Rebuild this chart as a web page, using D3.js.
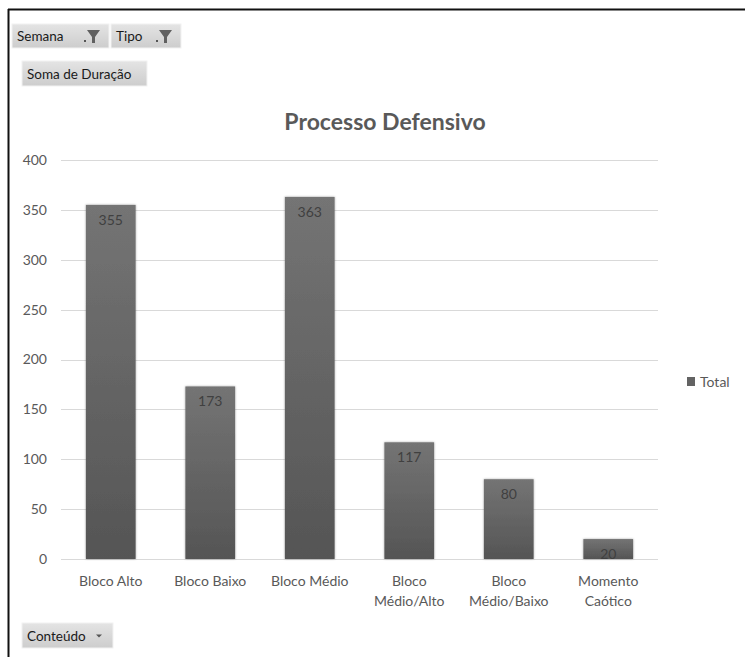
<!DOCTYPE html>
<html>
<head>
<meta charset="utf-8">
<script src="https://cdn.jsdelivr.net/npm/d3@7"></script>
<style>
  html, body { margin: 0; padding: 0; background: #fff; }
  svg { display: block; }
  text { font-family: Lato, "Open Sans", sans-serif; }
</style>
</head>
<body>
<svg id="chart" width="745" height="657"></svg>
<script>
// Duração total por tipo de bloco defensivo
const categories = [
  ["Bloco Alto"],
  ["Bloco Baixo"],
  ["Bloco Médio"],
  ["Bloco", "Médio/Alto"],
  ["Bloco", "Médio/Baixo"],
  ["Momento", "Caótico"]
];
const totals = [355, 173, 363, 117, 80, 20];
const yTicks = [0, 50, 100, 150, 200, 250, 300, 350, 400];
const title = "Processo Defensivo";
const seriesName = "Total";
const filterFields = ["Semana", "Tipo"];
const valueField = "Soma de Duração";
const rowField = "Conteúdo";

const svg = d3.select("#chart");
const W = 745, H = 657;
const plot = { left: 61, right: 658, top: 160, bottom: 559 };
const textGray = "#595959";

// gradients
const defs = svg.append("defs");
const barGrad = defs.append("linearGradient").attr("id", "barGrad")
  .attr("x1", 0).attr("y1", 0).attr("x2", 0).attr("y2", 1);
barGrad.append("stop").attr("offset", "0%").attr("stop-color", "#747474");
barGrad.append("stop").attr("offset", "100%").attr("stop-color", "#555555");
const btnGrad = defs.append("linearGradient").attr("id", "btnGrad")
  .attr("x1", 0).attr("y1", 0).attr("x2", 0).attr("y2", 1);
btnGrad.append("stop").attr("offset", "0%").attr("stop-color", "#e4e4e4");
btnGrad.append("stop").attr("offset", "100%").attr("stop-color", "#cdcdcd");
const shadow = defs.append("filter").attr("id", "barShadow")
  .attr("x", "-20%").attr("y", "-10%").attr("width", "140%").attr("height", "120%");
shadow.append("feDropShadow").attr("dx", 0).attr("dy", 0).attr("stdDeviation", 1.2)
  .attr("flood-color", "#000").attr("flood-opacity", 0.35);

// frame
svg.append("line").attr("x1", 8).attr("x2", W).attr("y1", 9.5).attr("y2", 9.5)
  .attr("stroke", "#111").attr("stroke-width", 2);
svg.append("line").attr("x1", 8.5).attr("x2", 8.5).attr("y1", 9).attr("y2", H)
  .attr("stroke", "#111").attr("stroke-width", 2);

// scales
const x = d3.scaleBand().domain(d3.range(categories.length))
  .range([plot.left, plot.right]).paddingInner(0.5).paddingOuter(0.25);
const y = d3.scaleLinear().domain([0, 400]).range([plot.bottom, plot.top]);

// gridlines
svg.append("g").selectAll("line").data(yTicks).join("line")
  .attr("x1", plot.left).attr("x2", plot.right)
  .attr("y1", d => Math.round(y(d)) + 0.5).attr("y2", d => Math.round(y(d)) + 0.5)
  .attr("stroke", "#d9d9d9").attr("stroke-width", 1);

// y axis labels
const yAxis = d3.axisLeft(y).tickValues(yTicks).tickSize(0).tickPadding(0);
const gy = svg.append("g").attr("transform", `translate(${plot.left - 14},0)`).call(yAxis);
gy.select(".domain").remove();
gy.selectAll("text").attr("fill", textGray).attr("font-size", 14)
  .attr("font-family", "Lato, sans-serif");

// bars
svg.append("g").selectAll("rect").data(totals).join("rect")
  .attr("x", (d, i) => x(i))
  .attr("y", d => y(d))
  .attr("width", x.bandwidth())
  .attr("height", d => y(0) - y(d))
  .attr("fill", "url(#barGrad)")
  .attr("filter", "url(#barShadow)");

// value labels
svg.append("g").selectAll("text").data(totals).join("text")
  .attr("x", (d, i) => x(i) + x.bandwidth() / 2)
  .attr("y", d => y(d) + 20)
  .attr("text-anchor", "middle")
  .attr("font-size", 14)
  .attr("fill", "#404040")
  .text(d => d);

// category labels
const gx = svg.append("g");
categories.forEach((lines, i) => {
  const t = gx.append("text")
    .attr("x", x(i) + x.bandwidth() / 2)
    .attr("y", plot.bottom + 27)
    .attr("text-anchor", "middle")
    .attr("font-size", 14)
    .attr("fill", textGray);
  lines.forEach((s, k) => {
    t.append("tspan").attr("x", x(i) + x.bandwidth() / 2)
      .attr("dy", k === 0 ? 0 : 20).text(s);
  });
});

// title
svg.append("text").attr("x", 385).attr("y", 130)
  .attr("text-anchor", "middle").attr("font-size", 23).attr("font-weight", 700)
  .attr("fill", textGray).text(title);

// legend
svg.append("rect").attr("x", 687).attr("y", 377).attr("width", 8).attr("height", 9)
  .attr("fill", "#636363");
svg.append("text").attr("x", 700).attr("y", 387).attr("font-size", 14)
  .attr("fill", textGray).text(seriesName);

// pivot field buttons
function button(bx, by, bw, bh, label, icon) {
  const g = svg.append("g").attr("transform", `translate(${bx},${by})`);
  g.append("rect").attr("width", bw).attr("height", bh).attr("fill", "url(#btnGrad)")
    .attr("stroke", "#f2f2f2").attr("stroke-width", 1);
  g.append("text").attr("x", 5).attr("y", bh / 2 + 5).attr("font-size", 13.5)
    .attr("fill", "#1a1a1a").text(label);
  if (icon === "filter") {
    const ix = bw - 24;
    g.append("rect").attr("x", ix - 1).attr("y", bh / 2 + 4).attr("width", 2).attr("height", 2)
      .attr("fill", "#555");
    g.append("path")
      .attr("d", `M${ix + 2},${bh / 2 - 6} L${ix + 15},${bh / 2 - 6} L${ix + 10},${bh / 2 + 1} L${ix + 10},${bh / 2 + 7} L${ix + 7},${bh / 2 + 7} L${ix + 7},${bh / 2 + 1} Z`)
      .attr("fill", "#606060");
  } else if (icon === "drop") {
    const ix = bw - 14;
    g.append("path").attr("d", `M${ix - 3},${bh / 2 - 1} L${ix + 3},${bh / 2 - 1} L${ix},${bh / 2 + 2} Z`)
      .attr("fill", "#555");
  }
}
button(12, 24, 97, 24, filterFields[0], "filter");
button(111, 24, 70, 24, filterFields[1], "filter");
button(22, 61, 125, 25, valueField, null);
button(22, 623, 91, 25, rowField, "drop");
</script>
</body>
</html>
